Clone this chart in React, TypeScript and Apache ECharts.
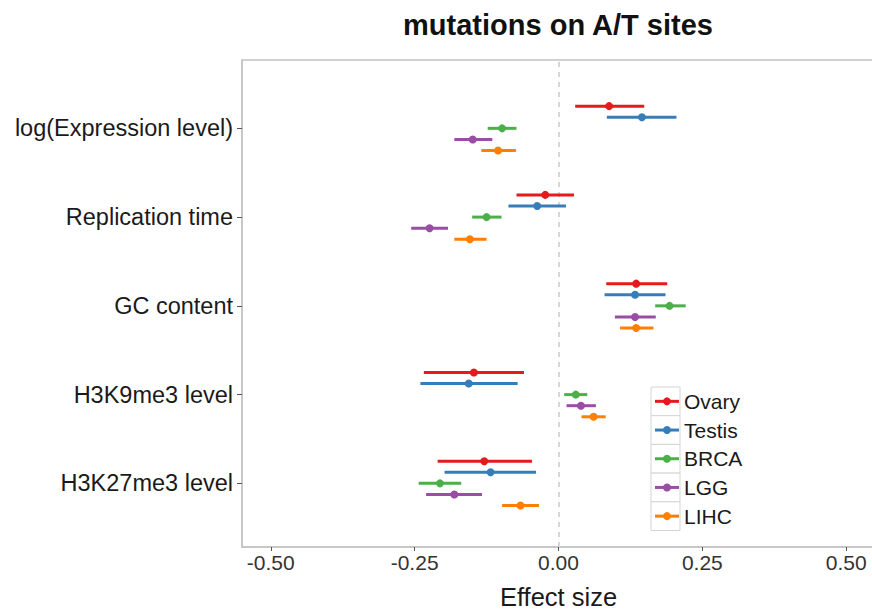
import React, { useEffect, useRef } from "react";
import * as echarts from "echarts";

const categories = [
  "log(Expression level)",
  "Replication time",
  "GC content",
  "H3K9me3 level",
  "H3K27me3 level",
];
const seriesNames = ["Ovary", "Testis", "BRCA", "LGG", "LIHC"];
const seriesColors = ["#E41A1C", "#377EB8", "#4DAF4A", "#984EA3", "#FF7F00"];
// [estimate, low, high] per category, in category order
const ovary = [
  [0.088, 0.029, 0.149],
  [-0.023, -0.073, 0.027],
  [0.135, 0.083, 0.189],
  [-0.147, -0.234, -0.06],
  [-0.129, -0.21, -0.046],
];
const testis = [
  [0.145, 0.084, 0.205],
  [-0.037, -0.087, 0.013],
  [0.133, 0.08, 0.186],
  [-0.156, -0.24, -0.071],
  [-0.118, -0.198, -0.039],
];
const brca = [
  [-0.098, -0.123, -0.073],
  [-0.125, -0.15, -0.099],
  [0.193, 0.168, 0.221],
  [0.03, 0.01, 0.05],
  [-0.206, -0.243, -0.169],
];
const lgg = [
  [-0.149, -0.181, -0.115],
  [-0.224, -0.256, -0.192],
  [0.133, 0.098, 0.169],
  [0.039, 0.014, 0.065],
  [-0.181, -0.23, -0.133],
];
const lihc = [
  [-0.105, -0.134, -0.074],
  [-0.154, -0.181, -0.125],
  [0.135, 0.107, 0.165],
  [0.061, 0.04, 0.082],
  [-0.066, -0.098, -0.034],
];
const allSeries = [ovary, testis, brca, lgg, lihc];
const xTicks = [-0.5, -0.25, 0, 0.25, 0.5];

const FONT = "'Liberation Sans', Arial, Helvetica, sans-serif";

export default function App() {
  const ref = useRef<HTMLDivElement>(null);
  useEffect(() => {
    if (!ref.current) return;
    const chart = echarts.init(ref.current, null, { renderer: "svg" });
    const n = categories.length;
    const step = 0.125;
    const series: any[] = allSeries.map((arr, si) => {
      const offset = (2 - si) * step;
      const color = seriesColors[si];
      return {
        type: "custom",
        name: seriesNames[si],
        data: arr.map((d, ci) => [d[0], d[1], d[2], n - ci + offset]),
        encode: { x: [0, 1, 2], y: 3 },
        z: 3,
        renderItem: (params: any, api: any) => {
          const est = api.value(0);
          const lo = api.value(1);
          const hi = api.value(2);
          const yv = api.value(3);
          const p1 = api.coord([lo, yv]);
          const p2 = api.coord([hi, yv]);
          const pc = api.coord([est, yv]);
          return {
            type: "group",
            children: [
              {
                type: "line",
                shape: { x1: p1[0], y1: p1[1], x2: p2[0], y2: p2[1] },
                style: { stroke: color, lineWidth: 3 },
              },
              {
                type: "circle",
                shape: { cx: pc[0], cy: pc[1], r: 4 },
                style: { fill: color },
              },
            ],
          };
        },
      };
    });
    series[0].markLine = {
      silent: true,
      symbol: "none",
      label: { show: false },
      lineStyle: { type: [5, 5], color: "#d6d6d6", width: 2 },
      data: [{ xAxis: 0 }],
      z: 1,
    };

    const legendTop = 387;
    const keyH = 28.7;
    const legendGraphics: any[] = [];
    seriesNames.forEach((name, i) => {
      const y = legendTop + i * keyH;
      legendGraphics.push({
        type: "rect",
        shape: { x: 651, y, width: 29, height: keyH },
        style: { fill: "#ffffff", stroke: "#d4d4d4", lineWidth: 1 },
        z: 10,
      });
      legendGraphics.push({
        type: "line",
        shape: { x1: 655, y1: y + keyH / 2, x2: 679, y2: y + keyH / 2 },
        style: { stroke: seriesColors[i], lineWidth: 3 },
        z: 11,
      });
      legendGraphics.push({
        type: "circle",
        shape: { cx: 667, cy: y + keyH / 2, r: 4 },
        style: { fill: seriesColors[i] },
        z: 11,
      });
      legendGraphics.push({
        type: "text",
        x: 684,
        y: y + keyH / 2,
        style: {
          text: name,
          font: `21px ${FONT}`,
          fill: "#1a1a1a",
          verticalAlign: "middle",
          align: "left",
        },
        z: 11,
      });
    });

    chart.setOption({
      animation: false,
      backgroundColor: "#ffffff",
      title: {
        text: "mutations on A/T sites",
        left: 553,
        top: 5,
        textAlign: "center",
        textStyle: {
          fontFamily: FONT,
          fontSize: 29,
          fontWeight: "bold",
          color: "#111",
          lineHeight: 29,
        },
      },
      grid: {
        left: 242,
        top: 60,
        width: 633,
        height: 487,
        containLabel: false,
        outerBoundsMode: "none",
        show: true,
        borderColor: "#c4c4c4",
        borderWidth: 1.5,
        backgroundColor: "#ffffff",
      },
      xAxis: {
        type: "value",
        min: -0.55,
        max: 0.55,
        name: "Effect size",
        nameLocation: "middle",
        nameGap: 39,
        nameTextStyle: {
          fontFamily: FONT,
          fontSize: 25.5,
          lineHeight: 22,
          color: "#1a1a1a",
        },
        axisLine: {
          show: true,
          onZero: false,
          lineStyle: { color: "#c4c4c4", width: 1.5 },
        },
        axisTick: {
          show: true,
          length: 4,
          lineStyle: { color: "#555" },
          customValues: xTicks,
        },
        axisLabel: {
          fontFamily: FONT,
          fontSize: 21,
          color: "#333",
          margin: 5,
          customValues: xTicks,
          formatter: (v: number) => v.toFixed(2),
        },
        splitLine: { show: false },
      },
      yAxis: {
        type: "value",
        min: 0.283,
        max: 5.77,
        axisLine: {
          show: true,
          onZero: false,
          lineStyle: { color: "#c4c4c4", width: 1.5 },
        },
        axisTick: {
          show: true,
          length: 5,
          lineStyle: { color: "#555" },
          customValues: categories.map((_, i) => n - i),
        },
        axisLabel: {
          fontFamily: FONT,
          fontSize: 23.5,
          color: "#1a1a1a",
          margin: 9,
          customValues: categories.map((_, i) => n - i),
          formatter: (v: number) => categories[n - Math.round(v)] ?? "",
        },
        splitLine: { show: false },
      },
      graphic: legendGraphics,
      series,
    });
    return () => chart.dispose();
  }, []);
  return (
    <div
      ref={ref}
      style={{ position: "absolute", left: 0, top: 0, width: 872, height: 613 }}
    />
  );
}
